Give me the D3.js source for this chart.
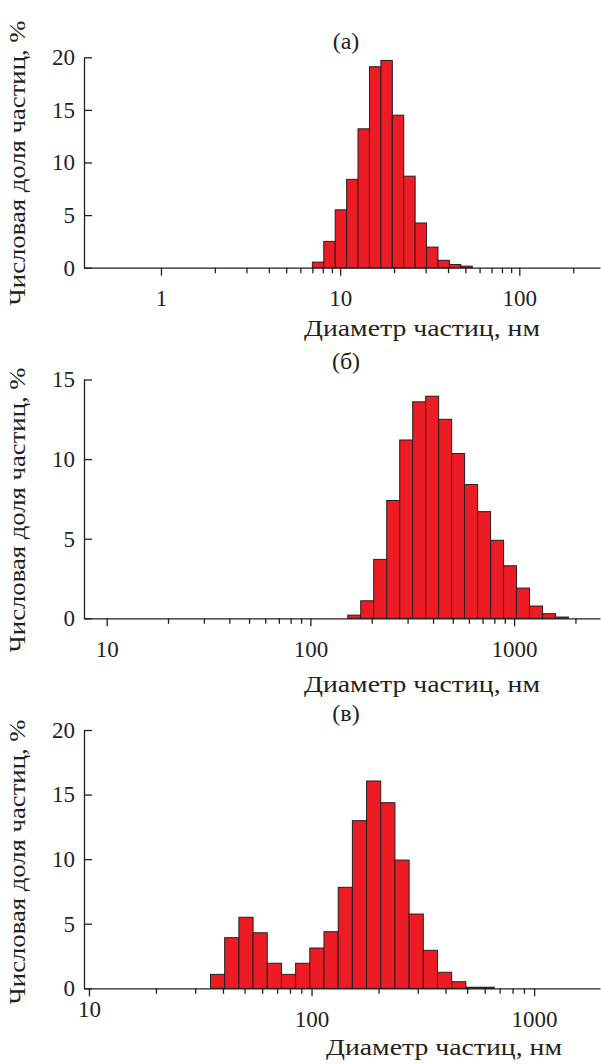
<!DOCTYPE html>
<html lang="ru">
<head>
<meta charset="utf-8">
<title>Распределение частиц по размерам</title>
<script src="https://cdn.jsdelivr.net/npm/d3@7"></script>
<style>
  body { margin: 0; background: #fff; }
</style>
</head>
<body>
<svg id="chart" width="601" height="1064"></svg>
<script>
// bin centres (nm) and number share (%)
var sizesA  = [7.531, 8.721, 10.1, 11.7, 13.54, 15.69, 18.17, 21.04, 24.36, 28.21, 32.67, 37.84, 43.82, 50.75];
var valuesA = [0.53, 2.5, 5.5, 8.4, 13.2, 19.1, 19.7, 14.5, 8.7, 4.25, 1.96, 0.7, 0.3, 0.15];

var sizesB  = [164.2, 190.1, 220.2, 255, 295.3, 342, 396.1, 458.7, 531.2, 615.1, 712.4, 825, 955.4, 1106, 1281, 1484, 1718];
var valuesB = [0.2, 1.1, 3.7, 7.4, 11.2, 13.6, 13.95, 12.5, 10.35, 8.4, 6.7, 4.9, 3.3, 1.9, 0.77, 0.29, 0.08];

var sizesC  = [37.84, 43.82, 50.75, 58.77, 68.06, 78.82, 91.28, 105.7, 122.4, 141.8, 164.2, 190.1, 220.2, 255, 295.3, 342, 396.1, 458.7, 531.2, 615.1];
var valuesC = [1.08, 3.92, 5.5, 4.3, 1.94, 1.08, 1.94, 3.12, 4.38, 7.82, 12.98, 16.05, 14.37, 9.93, 5.75, 2.94, 1.24, 0.51, 0.08, 0.08];

var xMajorA = [1, 10, 100];
var xMajorB = [10, 100, 1000];
var xMajorC = [10, 100, 1000];
var yTicksA = [0, 5, 10, 15, 20];
var yTicksB = [0, 5, 10, 15];
var yTicksC = [0, 5, 10, 15, 20];

var binRatio = 1.1581; // width of one size class (log step)
var xTitle = 'Диаметр частиц, нм';
var yTitle = 'Числовая доля частиц, %';

var svg = d3.select('#chart');
var ink = '#231f20';
var serif = '"Liberation Serif", "Times New Roman", serif';

function drawPanel(p) {
    var g = svg.append('g');
    var x = d3.scaleLog().domain(p.xDomain).range([84, 600]);
    var y = d3.scaleLinear().domain(p.yDomain).range(p.yRange);
    var base = p.yRange[0];
    var h = Math.sqrt(binRatio);

    // bars
    g.selectAll('rect.bar')
        .data(p.sizes.map(function (s, i) { return {size: s, value: p.values[i]}; }))
        .enter().append('rect')
        .attr('class', 'bar')
        .attr('x', function (d) { return x(d.size / h); })
        .attr('width', function (d) { return x(d.size * h) - x(d.size / h); })
        .attr('y', function (d) { return y(d.value); })
        .attr('height', function (d) { return base - y(d.value); })
        .attr('fill', '#ed1c24')
        .attr('stroke', ink)
        .attr('stroke-width', 1);

    // x axis: minor ticks
    var minor = x.ticks().filter(function (t) { return t >= p.xMajor[0] && p.xMajor.indexOf(t) < 0; });
    var xMinor = g.append('g')
        .attr('transform', 'translate(0,' + base + ')')
        .call(d3.axisBottom(x).tickValues(minor).tickSize(5.5).tickSizeOuter(0).tickFormat(''));
    xMinor.select('.domain').remove();

    var xAx = g.append('g')
        .attr('transform', 'translate(0,' + base + ')')
        .call(d3.axisBottom(x).tickValues(p.xMajor).tickSize(8).tickSizeOuter(0)
            .tickPadding(14).tickFormat(d3.format('d')));
    xAx.selectAll('text')
        .style('font-family', serif)
        .style('font-size', '23px')
        .attr('fill', ink)
        .attr('dy', function (d, i) { return (i === 0 && p.firstDy) ? p.firstDy : '0.71em'; });

    // y axis, ticks pointing inward
    var yAx = g.append('g')
        .attr('transform', 'translate(84,0)')
        .call(d3.axisLeft(y).tickValues(p.yTicks).tickSizeInner(-8).tickSizeOuter(0).tickPadding(9));
    yAx.selectAll('text')
        .style('font-family', serif)
        .style('font-size', '23px')
        .attr('fill', ink);

    g.selectAll('.domain, .tick line').attr('stroke', ink).attr('stroke-width', 1.3);

    // titles
    g.append('text')
        .attr('x', 346).attr('y', p.labelY)
        .attr('text-anchor', 'middle')
        .style('font-family', serif).style('font-size', '24px')
        .attr('fill', ink)
        .text(p.label);

    g.append('text')
        .attr('x', p.xTitleX).attr('y', p.xTitleY)
        .attr('text-anchor', 'middle')
        .style('font-family', serif).style('font-size', '24px')
        .attr('fill', ink)
        .attr('textLength', 236).attr('lengthAdjust', 'spacingAndGlyphs')
        .text(xTitle);

    g.append('text')
        .attr('transform', 'translate(25,' + p.yTitleY + ') rotate(-90)')
        .attr('text-anchor', 'middle')
        .style('font-family', serif).style('font-size', '24px')
        .attr('fill', ink)
        .attr('textLength', 285).attr('lengthAdjust', 'spacingAndGlyphs')
        .text(yTitle);
}

drawPanel({
    sizes: sizesA, values: valuesA, xMajor: xMajorA, yTicks: yTicksA,
    xDomain: [0.372, 282], yDomain: [0, 20], yRange: [267.7, 57.3],
    label: '(а)', labelY: 49, xTitleX: 422, xTitleY: 336, yTitleY: 163
});

drawPanel({
    sizes: sizesB, values: valuesB, xMajor: xMajorB, yTicks: yTicksB,
    xDomain: [7.74, 2640], yDomain: [0, 15], yRange: [618.3, 379.5],
    label: '(б)', labelY: 369, xTitleX: 422, xTitleY: 692, yTitleY: 510
});

drawPanel({
    sizes: sizesC, values: valuesC, xMajor: xMajorC, yTicks: yTicksC,
    xDomain: [9.5, 1977], yDomain: [0, 20], yRange: [988.3, 730],
    label: '(в)', labelY: 721, xTitleX: 444, xTitleY: 1055, yTitleY: 862,
    firstDy: '0.31em'
});
</script>
</body>
</html>
